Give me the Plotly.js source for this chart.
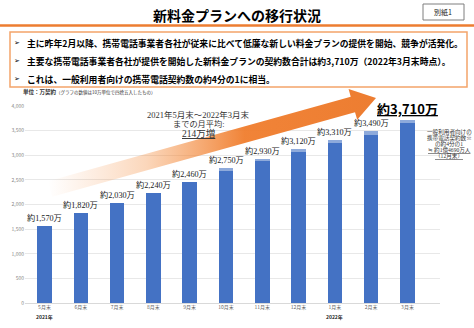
<!DOCTYPE html>
<html>
<head>
<meta charset="utf-8">
<script src="https://cdn.plot.ly/plotly-3.0.1.min.js"></script>
<style>
html,body{margin:0;padding:0;background:#fff;}
#chart{width:474px;height:328px;}
</style>
</head>
<body>
<div id="chart"></div>
<script>
// ---- data ----
const months = ['5月末','6月末','7月末','8月末','9月末','10月末','11月末','12月末','1月末','2月末','3月末'];
const totals = [1570, 1820, 2030, 2240, 2460, 2750, 2930, 3120, 3310, 3490, 3710];
const capPart = [0, 0, 0, 0, 0, 60, 50, 60, 60, 70, 60];
const yTicks = [0, 500, 1000, 1500, 2000, 2500, 3000, 3500, 4000];
const yearLabels = [['5月末', '2021年'], ['1月末', '2022年']];
const titleText = '新料金プランへの移行状況';
const bullets = [
  '主に昨年2月以降、携帯電話事業者各社が従来に比べて低廉な新しい料金プランの提供を開始、競争が活発化。',
  '主要な携帯電話事業者各社が提供を開始した新料金プランの契約数合計は約3,710万（2022年3月末時点）。',
  'これは、一般利用者向けの携帯電話契約数の約4分の1に相当。'
];
const noteLines = ['一般利用者向けの', '携帯電話契約数※', 'の約4分の1', '<u>≒ 約1億4690万人</u>', '<u>（12月末）</u>'];
const avgLines = ['2021年5月末～2022年3月末', 'までの月平均:', '<u>214万増</u>'];

const W = 474, H = 328;
const px = x => x / W;
const py = y => 1 - y / H;

const baseVals = totals.map((t, i) => t - capPart[i]);

const JP = '"Noto Sans CJK JP", "Noto Sans", sans-serif';
const SERIF = '"Liberation Serif", "DejaVu Serif", "Noto Sans CJK JP", serif';

// arrow geometry (pixel space of overlay axes)
function arrowPath() {
  const T = [50, 189], P = [376, 98];
  const dx = P[0] - T[0], dy = P[1] - T[1];
  const len = Math.hypot(dx, dy);
  const u = [dx / len, dy / len];
  const n = [-u[1], u[0]];
  const w = 8, hw = 16, hl = 24;
  const B = [P[0] - hl * u[0], P[1] - hl * u[1]];
  const pts = [
    [T[0] - w * n[0], T[1] - w * n[1]],
    [B[0] - w * n[0], B[1] - w * n[1]],
    [B[0] - hw * n[0], B[1] - hw * n[1]],
    P,
    [B[0] + hw * n[0], B[1] + hw * n[1]],
    [B[0] + w * n[0], B[1] + w * n[1]],
    [T[0] + w * n[0], T[1] + w * n[1]],
    [T[0] - w * n[0], T[1] - w * n[1]]
  ];
  return {x: pts.map(p => p[0]), y: pts.map(p => p[1])};
}
const ap = arrowPath();

const traces = [
  {
    type: 'bar', x: months, y: baseVals, marker: {color: '#4472C4'},
    hoverinfo: 'skip', xaxis: 'x', yaxis: 'y'
  },
  {
    type: 'bar', x: months, y: capPart, marker: {color: '#8EAADB'},
    hoverinfo: 'skip', xaxis: 'x', yaxis: 'y'
  },
  {
    type: 'scatter', x: ap.x, y: ap.y, xaxis: 'x2', yaxis: 'y2',
    mode: 'lines', line: {width: 0, color: 'rgba(0,0,0,0)'}, fill: 'toself',
    fillgradient: {
      type: 'horizontal',
      colorscale: [[0, 'rgba(245,150,80,0)'], [0.3, 'rgba(244,140,60,0.35)'], [0.6, 'rgba(240,125,45,0.95)'], [1, 'rgba(237,125,49,1)']]
    },
    hoverinfo: 'skip'
  }
];

const annotations = [];
// title
annotations.push({xref: 'paper', yref: 'paper', x: px(237), y: py(15), text: '<b>' + titleText + '</b>',
  showarrow: false, font: {family: JP, size: 14, color: '#000'}, xanchor: 'center', yanchor: 'middle'});
annotations.push({xref: 'paper', yref: 'paper', x: px(443), y: py(12), text: '別紙1',
  showarrow: false, font: {family: JP, size: 7, color: '#222'}, xanchor: 'center', yanchor: 'middle'});
// bullets
const bulletY = [43, 61, 79];
bullets.forEach((b, i) => {
  annotations.push({xref: 'paper', yref: 'paper', x: px(12), y: py(bulletY[i]), text: '➢',
    showarrow: false, font: {family: '"DejaVu Sans", sans-serif', size: 7, color: '#000'}, xanchor: 'left', yanchor: 'middle'});
  annotations.push({xref: 'paper', yref: 'paper', x: px(25), y: py(bulletY[i]), text: '<b>' + b + '</b>',
    showarrow: false, font: {family: JP, size: 8.8, color: '#000'}, xanchor: 'left', yanchor: 'middle'});
});
// unit
annotations.push({xref: 'paper', yref: 'paper', x: px(21), y: py(92),
  text: '<b>単位：万契約</b><span style="font-size:4.5px">（グラフの数値は10万単位で四捨五入したもの）</span>',
  showarrow: false, font: {family: JP, size: 5.5, color: '#333'}, xanchor: 'left', yanchor: 'middle'});
// bar labels
months.forEach((m, i) => {
  const last = i === months.length - 1;
  const txt = '約' + totals[i].toLocaleString('en-US') + '万';
  annotations.push({xref: 'x', yref: 'y', x: m, y: totals[i],
    text: last ? '<b><u>' + txt + '</u></b>' : txt,
    showarrow: false, yanchor: 'bottom', xanchor: 'center', yshift: last ? 0 : 1,
    font: last ? {family: JP, size: 13, color: '#000'} : {family: SERIF, size: 8.2, color: '#222'}});
});
// year labels
yearLabels.forEach(([m, y]) => {
  annotations.push({xref: 'x', yref: 'paper', x: m, y: py(317), text: '<b>' + y + '</b>',
    showarrow: false, font: {family: JP, size: 5, color: '#222'}, xanchor: 'center', yanchor: 'middle'});
});
// average note
const avgY = [115, 124, 134];
const avgSize = [8.5, 8.2, 9.5];
avgLines.forEach((t, i) => {
  annotations.push({xref: 'paper', yref: 'paper', x: px(198), y: py(avgY[i]), text: t,
    showarrow: false, font: {family: SERIF, size: avgSize[i], color: '#333'}, xanchor: 'center', yanchor: 'middle'});
});
// right note
const noteY = [132, 138, 144, 150, 156];
noteLines.forEach((t, i) => {
  annotations.push({xref: 'paper', yref: 'paper', x: px(449), y: py(noteY[i]), text: t,
    showarrow: false, font: {family: SERIF, size: 5.6, color: '#333'}, xanchor: 'center', yanchor: 'middle'});
});

const shapes = [
  {type: 'line', xref: 'paper', yref: 'paper', x0: 0, x1: 1, y0: py(25.5), y1: py(25.5),
    line: {color: '#ED7D31', width: 2.5}},
  {type: 'rect', xref: 'paper', yref: 'paper', x0: px(423), x1: px(464), y0: py(4), y1: py(20),
    line: {color: '#7f7f7f', width: 1}, fillcolor: 'rgba(0,0,0,0)'},
  {type: 'rect', xref: 'paper', yref: 'paper', x0: px(10), x1: px(467), y0: py(32), y1: py(87),
    line: {color: '#F4A46A', width: 1.5}, fillcolor: 'rgba(0,0,0,0)'}
];

const layout = {
  width: W, height: H,
  margin: {l: 0, r: 0, t: 0, b: 0},
  paper_bgcolor: '#fff', plot_bgcolor: 'rgba(0,0,0,0)',
  showlegend: false,
  barmode: 'stack', bargap: 0.6,
  xaxis: {domain: [px(25), px(440)], type: 'category', anchor: 'y', showgrid: false, showline: false,
    ticks: '', tickfont: {family: JP, size: 5, color: '#666'}, fixedrange: true},
  yaxis: {domain: [py(303), py(106)], range: [0, 4000], anchor: 'x', tickvals: yTicks, tickformat: ',',
    gridcolor: '#e8e8e8', gridwidth: 1, zeroline: true, zerolinecolor: '#d9d9d9', zerolinewidth: 1,
    showline: false, ticks: '', tickfont: {family: JP, size: 5, color: '#888'}, fixedrange: true},
  xaxis2: {domain: [0, 1], range: [0, W], anchor: 'y2', visible: false, fixedrange: true},
  yaxis2: {domain: [0, 1], range: [H, 0], anchor: 'x2', visible: false, fixedrange: true},
  annotations: annotations,
  shapes: shapes
};

Plotly.newPlot('chart', traces, layout, {displayModeBar: false, staticPlot: true});
</script>
</body>
</html>
